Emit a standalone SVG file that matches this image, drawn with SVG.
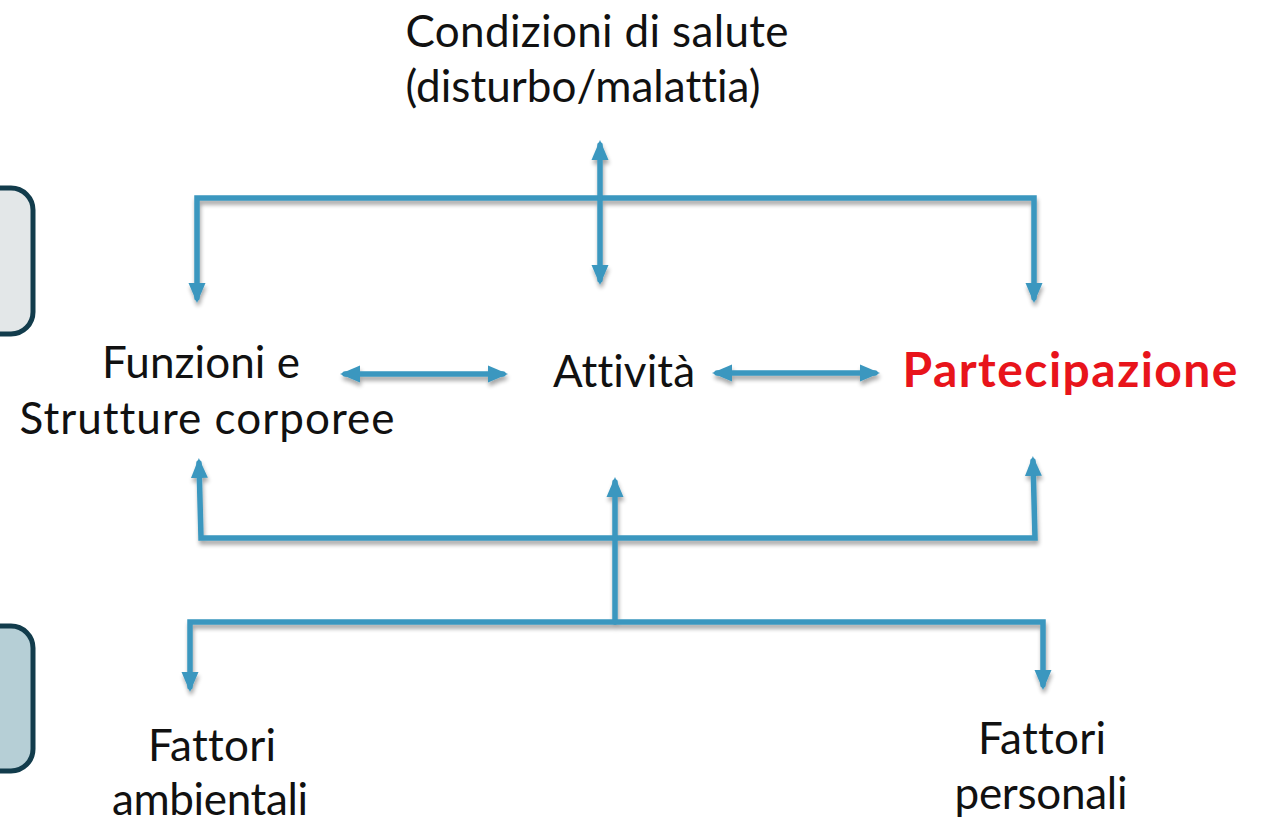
<svg xmlns="http://www.w3.org/2000/svg" width="1268" height="823" viewBox="0 0 1268 823">
<style>
.t{font-family:Lato,"Open Sans","Liberation Sans",sans-serif;font-size:44px;fill:#111;text-anchor:middle;font-variant-ligatures:none}
.c{fill:none;stroke:#3a97bf;stroke-width:5.5;stroke-linecap:round;stroke-linejoin:miter}
.box{stroke:#123c4c;stroke-width:5}
</style>
<defs>
<marker id="ah" markerUnits="userSpaceOnUse" markerWidth="22" markerHeight="22" viewBox="0 0 22 22" refX="15" refY="11" orient="auto-start-reverse">
<path d="M0,2.5 L20,11 L0,19.5 Z" fill="#3a97bf"/>
</marker>
<filter id="sh" x="-10%" y="-10%" width="120%" height="130%">
<feGaussianBlur in="SourceAlpha" stdDeviation="2"/>
<feOffset dx="1" dy="4"/>
<feComponentTransfer><feFuncA type="linear" slope="0.35"/></feComponentTransfer>
<feMerge><feMergeNode/><feMergeNode in="SourceGraphic"/></feMerge>
</filter>
</defs>
<rect width="1268" height="823" fill="#fff"/>
<g id="box-top"><rect class="box" x="-40" y="188" width="73" height="146" rx="22" fill="#e3e7e8"/></g>
<g id="box-bottom"><rect class="box" x="-40" y="626" width="73" height="145" rx="22" fill="#b6cfd6"/></g>
<g id="connectors" filter="url(#sh)">
<path class="c" d="M197,298 V198 H1034 V298" marker-start="url(#ah)" marker-end="url(#ah)"/>
<path class="c" d="M600,145 V280" marker-start="url(#ah)" marker-end="url(#ah)"/>
<path class="c" d="M345,374 H503" marker-start="url(#ah)" marker-end="url(#ah)"/>
<path class="c" d="M717,373 H875" marker-start="url(#ah)" marker-end="url(#ah)"/>
<path class="c" d="M199,463 L201,538 H1035 L1033,461" marker-start="url(#ah)" marker-end="url(#ah)"/>
<path class="c" d="M615,622 V482" marker-end="url(#ah)"/>
<path class="c" d="M190,687 V622 H1043 V685" marker-start="url(#ah)" marker-end="url(#ah)"/>
</g>
<g id="n-condizioni">
<text class="t" x="597" y="47" textLength="383">Condizioni di salute</text>
<text class="t" x="583" y="102" textLength="355">(disturbo/malattia)</text>
</g>
<g id="n-funzioni">
<text class="t" x="201" y="378" textLength="198">Funzioni e</text>
<text class="t" x="207" y="434" textLength="375">Strutture corporee</text>
</g>
<g id="n-attivita"><text class="t" x="624" y="387" textLength="142">Attività</text></g>
<g id="n-partecipazione"><text class="t" x="1070" y="387" textLength="335" style="font-weight:bold;font-size:48px;fill:#e8141b">Partecipazione</text></g>
<g id="n-ambientali">
<text class="t" x="212" y="761" textLength="128">Fattori</text>
<text class="t" x="210" y="815" textLength="196">ambientali</text>
</g>
<g id="n-personali">
<text class="t" x="1042" y="754" textLength="128">Fattori</text>
<text class="t" x="1041" y="809" textLength="173">personali</text>
</g>
</svg>
